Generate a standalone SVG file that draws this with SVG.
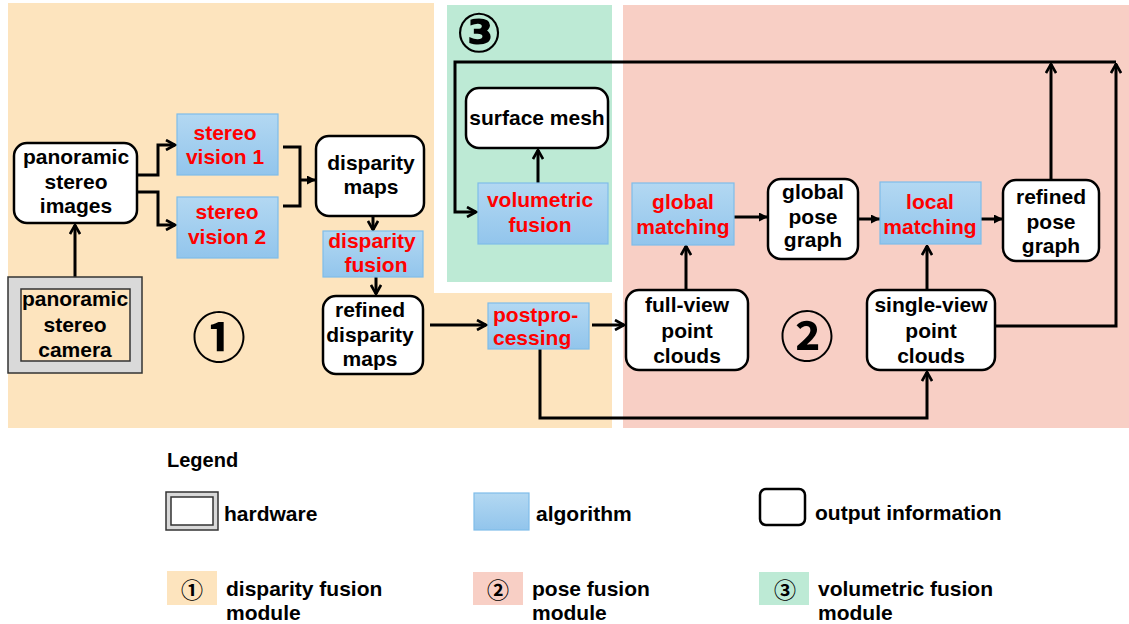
<svg xmlns="http://www.w3.org/2000/svg" width="1129" height="624" viewBox="0 0 1129 624">
<style>
.t{font-family:"Liberation Sans",Arial,sans-serif;font-weight:bold;font-size:21px;text-anchor:middle;fill:#000}
.r{fill:#ff0000}
.lg{font-family:"Liberation Sans",Arial,sans-serif;font-weight:bold;font-size:21px;fill:#000}
.out{fill:#fff;stroke:#000;stroke-width:2.5}
.alg{fill:url(#bg);stroke:#7fbde9;stroke-width:1.2}
.c{fill:none;stroke:#000;stroke-width:3}
.circ{font-family:"Noto Sans CJK JP","DejaVu Sans",sans-serif;font-weight:bold;text-anchor:middle;fill:#000}
.circ2{font-family:"DejaVu Sans",sans-serif;font-weight:bold;text-anchor:middle;fill:#000}
</style>
<defs>
<linearGradient id="bg" x1="0" y1="0" x2="0" y2="1">
<stop offset="0" stop-color="#b3d8f2"/>
<stop offset="1" stop-color="#92c5ec"/>
</linearGradient>
<marker id="op" viewBox="0 0 12 12" refX="10.5" refY="6" markerWidth="12" markerHeight="12" markerUnits="userSpaceOnUse" orient="auto">
<path d="M1.5,1 L10.5,6 L1.5,11" fill="none" stroke="#000" stroke-width="2.6"/>
</marker>
<marker id="fl" viewBox="0 0 10 10" refX="10" refY="5" markerWidth="9" markerHeight="9" markerUnits="userSpaceOnUse" orient="auto">
<path d="M0,0 L10,5 L0,10 z" fill="#000"/>
</marker>
</defs>

<g id="backgrounds">
<rect x="8" y="3" width="604" height="425" fill="#fde4be"/>
<rect x="434" y="0" width="180" height="293" fill="#fff"/>
<rect x="447" y="5" width="165" height="277" fill="#bdead5"/>
<rect x="623" y="5" width="506" height="423" fill="#f8cfc5"/>
<text class="circ" x="219" y="358" font-size="54">①</text>
<text class="circ" x="807" y="357" font-size="54">②</text>
<text class="circ2" x="479" y="52" font-size="55">③</text>
</g>

<g id="connectors">
<path class="c" d="M75,277 V225" marker-end="url(#op)"/>
<path class="c" d="M137,175 H158 V145 H175" marker-end="url(#op)"/>
<path class="c" d="M137,192 H158 V225 H175" marker-end="url(#op)"/>
<path class="c" d="M283,147 H300 V206 H283"/>
<path class="c" d="M300,180 H316" marker-end="url(#fl)"/>
<path class="c" d="M373,216 V230" marker-end="url(#op)"/>
<path class="c" d="M376,277 V294" marker-end="url(#op)"/>
<path class="c" d="M430,325 H486" marker-end="url(#op)"/>
<path class="c" d="M592,325 H624" marker-end="url(#op)"/>
<path class="c" d="M540,349 V418 H927 V372" marker-end="url(#op)"/>
<path class="c" d="M686,290 V246" marker-end="url(#op)"/>
<path class="c" d="M927,290 V246" marker-end="url(#op)"/>
<path class="c" d="M734,217 H768" marker-end="url(#fl)"/>
<path class="c" d="M858,219 H880" marker-end="url(#fl)"/>
<path class="c" d="M981,219 H1003" marker-end="url(#fl)"/>
<path class="c" d="M1051,180 V64" marker-end="url(#op)"/>
<path class="c" d="M995,326 H1116 V64" marker-end="url(#op)"/>
<path class="c" d="M1116,62 H455 V212 H476" marker-end="url(#op)"/>
<path class="c" d="M538,183 V150" marker-end="url(#op)"/>
</g>

<g id="n-images">
<rect class="out" x="14" y="143" width="123" height="80" rx="13"/>
<text class="t" x="76" y="164">panoramic</text>
<text class="t" x="76" y="189">stereo</text>
<text class="t" x="76" y="213">images</text>
</g>
<g id="n-camera">
<rect x="8" y="277" width="134" height="96" fill="#d9d9d9" stroke="#333" stroke-width="1.5"/>
<rect x="21" y="289" width="109" height="72" fill="#fde4be" stroke="#333" stroke-width="1.5"/>
<text class="t" x="75" y="306">panoramic</text>
<text class="t" x="75" y="332">stereo</text>
<text class="t" x="75" y="357">camera</text>
</g>
<g id="n-sv1">
<rect class="alg" x="177" y="114" width="101" height="61"/>
<text class="t r" x="225" y="140">stereo</text>
<text class="t r" x="225" y="164">vision 1</text>
</g>
<g id="n-sv2">
<rect class="alg" x="177" y="197" width="101" height="61"/>
<text class="t r" x="227" y="219">stereo</text>
<text class="t r" x="227" y="244">vision 2</text>
</g>
<g id="n-dmaps">
<rect class="out" x="316" y="136" width="108" height="80" rx="13"/>
<text class="t" x="371" y="170">disparity</text>
<text class="t" x="371" y="194">maps</text>
</g>
<g id="n-dfusion">
<rect class="alg" x="323" y="231" width="100" height="46"/>
<text class="t r" x="372" y="248">disparity</text>
<text class="t r" x="376" y="272">fusion</text>
</g>
<g id="n-rdmaps">
<rect class="out" x="323" y="296" width="100" height="78" rx="13"/>
<text class="t" x="370" y="317">refined</text>
<text class="t" x="370" y="342">disparity</text>
<text class="t" x="370" y="366">maps</text>
</g>
<g id="n-post">
<rect class="alg" x="488" y="303" width="101" height="46"/>
<text class="t r" x="493" y="322" style="text-anchor:start">postpro-</text>
<text class="t r" x="493" y="345" style="text-anchor:start">cessing</text>
</g>
<g id="n-mesh">
<rect class="out" x="466" y="88" width="142" height="60" rx="13"/>
<text class="t" x="537" y="125">surface mesh</text>
</g>
<g id="n-vfusion">
<rect class="alg" x="478" y="183" width="130" height="61"/>
<text class="t r" x="540" y="207">volumetric</text>
<text class="t r" x="540" y="232">fusion</text>
</g>
<g id="n-gmatch">
<rect class="alg" x="632" y="183" width="102" height="62"/>
<text class="t r" x="683" y="209">global</text>
<text class="t r" x="683" y="234">matching</text>
</g>
<g id="n-gpg">
<rect class="out" x="768" y="179" width="90" height="80" rx="13"/>
<text class="t" x="813" y="199">global</text>
<text class="t" x="813" y="224">pose</text>
<text class="t" x="813" y="247">graph</text>
</g>
<g id="n-lmatch">
<rect class="alg" x="880" y="182" width="101" height="62"/>
<text class="t r" x="930" y="209">local</text>
<text class="t r" x="930" y="234">matching</text>
</g>
<g id="n-rpg">
<rect class="out" x="1003" y="180" width="96" height="81" rx="13"/>
<text class="t" x="1051" y="204">refined</text>
<text class="t" x="1051" y="229">pose</text>
<text class="t" x="1051" y="253">graph</text>
</g>
<g id="n-fullview">
<rect class="out" x="626" y="290" width="122" height="80" rx="13"/>
<text class="t" x="687" y="312">full-view</text>
<text class="t" x="687" y="338">point</text>
<text class="t" x="687" y="363">clouds</text>
</g>
<g id="n-singleview">
<rect class="out" x="867" y="290" width="128" height="80" rx="13"/>
<text class="t" x="931" y="312">single-view</text>
<text class="t" x="931" y="338">point</text>
<text class="t" x="931" y="363">clouds</text>
</g>

<g id="legend">
<text class="lg" x="167" y="467" style="font-size:20px">Legend</text>
<rect x="166" y="492" width="52" height="38" fill="#d9d9d9" stroke="#333" stroke-width="1.5"/>
<rect x="171" y="497" width="42" height="28" fill="#fff" stroke="#333" stroke-width="1.5"/>
<text class="lg" x="224" y="521">hardware</text>
<rect class="alg" x="474" y="493" width="55" height="37"/>
<text class="lg" x="536" y="521">algorithm</text>
<rect class="out" x="760" y="489" width="45" height="36" rx="6"/>
<text class="lg" x="815" y="520">output information</text>
<rect x="167" y="571" width="50" height="34" fill="#fde4be"/>
<text class="circ" x="192" y="598" font-size="22">①</text>
<text class="lg" x="226" y="596">disparity fusion</text>
<text class="lg" x="226" y="620">module</text>
<rect x="473" y="572" width="50" height="33" fill="#f8cfc5"/>
<text class="circ" x="498" y="598" font-size="22">②</text>
<text class="lg" x="532" y="596">pose fusion</text>
<text class="lg" x="532" y="620">module</text>
<rect x="759" y="572" width="50" height="33" fill="#bdead5"/>
<text class="circ" x="785" y="598" font-size="22">③</text>
<text class="lg" x="818" y="596">volumetric fusion</text>
<text class="lg" x="818" y="620">module</text>
</g>
</svg>
